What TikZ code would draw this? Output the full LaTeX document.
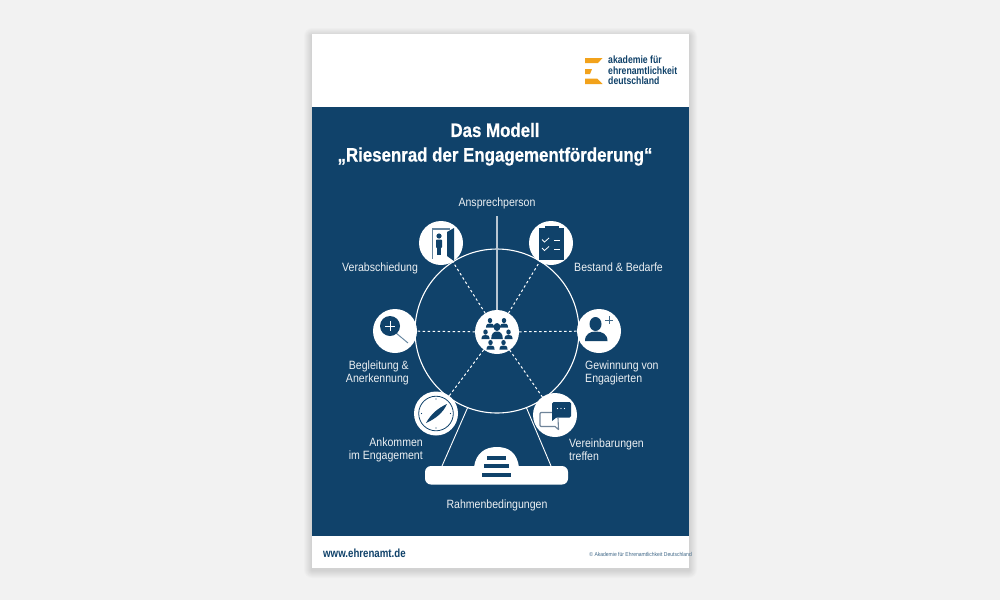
\documentclass[tikz,border=0pt]{standalone}
\usepackage{fontspec}
\setmainfont{Liberation Sans}
\newfontfamily\narrowfont[FakeStretch=0.88]{Liberation Sans}
\newfontfamily\narrowbold[FakeStretch=0.82]{Liberation Sans Bold}
\newfontfamily\titlebold[FakeStretch=0.865,FakeBold=0.6]{Liberation Sans Bold}
\definecolor{navy}{HTML}{10426A}
\definecolor{paper}{HTML}{F2F2F2}
\definecolor{amber}{HTML}{F2A21B}
\definecolor{softline}{HTML}{B9C6D2}
\definecolor{chatgrey}{HTML}{6F8499}
\tikzset{
  iconcircle/.style={circle,fill=white,minimum size=44pt,inner sep=0pt,outer sep=0pt},
  spoke/.style={draw=white,line width=1pt,dash pattern=on 2.5pt off 2.5pt},
  labeltext/.style={text=white!92!navy,inner sep=0pt,font=\narrowfont\fontsize{12}{13}\selectfont},
  leg/.style={draw=white,line width=0.9pt},
}
\newcommand{\personicon}[3]{%
  \fill[navy] (#1,#2-#3*2.9) ellipse [x radius=#3*2.2,y radius=#3*2.6];
  \fill[navy] (#1-#3*4,#2+#3*4.1) .. controls (#1-#3*4,#2) and (#1-#3*1.6,#2) .. (#1,#2)
     .. controls (#1+#3*1.6,#2) and (#1+#3*4,#2) .. (#1+#3*4,#2+#3*4.1) -- cycle;}
\begin{document}
\begin{tikzpicture}[x=1pt,y=-1pt]
\useasboundingbox (0,0) rectangle (1000,600);
\fill[paper] (0,0) rectangle (1000,600);
% sheet shadow
\foreach \d in {8,7,6,5,4,3,2,1}
  \fill[black,opacity=0.014,rounded corners=\d pt] (312-\d,34-\d+2) rectangle (689+\d,568+\d+2);
\fill[white] (312,34) rectangle (689,568);
\fill[navy] (312,107) rectangle (689,536);
% logo
\fill[amber] (585,58) -- (602.5,58) -- (598,63) -- (585,63) -- cycle;
\fill[amber] (585,69) -- (592,69) -- (590,74) -- (585,74) -- cycle;
\fill[amber] (585,78.5) -- (597,78.5) -- (602.5,84) -- (585,84) -- cycle;
\node[anchor=west,text=navy,inner sep=0pt,align=left,font=\narrowbold\fontsize{10.6}{10.2}\selectfont] (logotext) at (608,70.3)
  {akademie für\\ehrenamtlichkeit\\deutschland};
% title
\node[text=white,inner sep=0pt,font=\titlebold\fontsize{19.5}{19.5}\selectfont] (title1) at (495,130) {Das Modell};
\node[text=white,inner sep=0pt,font=\titlebold\fontsize{19.5}{19.5}\selectfont] (title2) at (495,156.5) {„Riesenrad der Engagementförderung“};
% wheel
\node[circle,draw=white,line width=1.1pt,minimum size=164pt,inner sep=0pt] (wheel) at (497,331) {};
% base
\fill[white,rounded corners=6pt] (425,466) rectangle (568,484.5);
\fill[white] (474,467) .. controls (476,453) and (485,447) .. (497,447)
  .. controls (509,447) and (517,453) .. (519,467) -- cycle;
\fill[navy] (487,456) rectangle (505.5,460);
\fill[navy] (483.5,463.5) rectangle (508.5,467.5);
\fill[navy] (481.5,472.5) rectangle (511,477);
\coordinate (footL) at (442,466);
\coordinate (footR) at (551,466);
\path[leg] (wheel.249) -- (footL);
\path[leg] (wheel.291) -- (footR);
% nodes
\node[iconcircle] (hub) at (497,332) {};
\node[iconcircle] (door) at (441,243) {};
\node[iconcircle] (clip) at (551,243) {};
\node[iconcircle] (gain) at (599,331) {};
\node[iconcircle] (lens) at (395,331) {};
\node[iconcircle] (compass) at (436,413.5) {};
\node[iconcircle] (chat) at (555,415) {};
\coordinate (mast) at (497,216);
\draw[draw=softline,line width=1.2pt] (mast) -- (hub);
\foreach \n in {door,clip,gain,lens,compass,chat} \path[spoke] (hub) -- (\n);
% hub icon
\personicon{490}{323.5}{1.02}
\personicon{504}{323.5}{1.02}
\personicon{485.5}{335}{1.02}
\personicon{508.5}{335}{1.02}
\personicon{490.5}{345.5}{1.02}
\personicon{503.5}{345.5}{1.02}
\fill[navy] (497,327) ellipse [x radius=3.4,y radius=4];
\fill[navy] (491.2,339) .. controls (491.2,333) and (494,331.5) .. (497,331.5) .. controls (500,331.5) and (502.8,333) .. (502.8,339) -- cycle;
% door icon
\fill[softline!50!navy] (431.7,228.3) rectangle (433.2,259);
\fill[softline!50!navy] (431.7,228.3) rectangle (450,229.8);
\fill[navy] (447,232) -- (454,228) -- (454,261) -- (447,256) -- cycle;
\fill[navy] (439,236) circle [radius=2.6];
\fill[navy,rounded corners=0.8pt] (436,239.5) rectangle (442,248);
\fill[navy] (436.8,247) rectangle (441.3,254.5);
% clipboard icon
\fill[navy] (539,227.5) rectangle (564,259.5);
\fill[navy] (545,225.5) rectangle (558.5,229);
\draw[white,line width=0.8pt] (542,239.5) -- (544.5,242) -- (549,238);
\draw[white,line width=0.8pt] (542,248) -- (544.5,250.5) -- (549,246.5);
\draw[white,line width=0.8pt] (554,240.5) -- (560,240.5);
\draw[white,line width=0.8pt] (554,249.5) -- (560,249.5);
% gain icon
\fill[navy] (595.5,324) ellipse [x radius=6,y radius=7];
\fill[navy] (585,341) .. controls (585,334) and (590,331.5) .. (596,331.5)
  .. controls (602,331.5) and (607.5,334) .. (607.5,341) -- cycle;
\draw[navy!80!white,line width=0.7pt] (605,320) -- (612.5,320) (609,316) -- (609,323.5);
% lens icon
\draw[softline!50!navy,line width=0.9pt] (396,333) -- (408,343);
\fill[navy] (390,326) circle [radius=10];
\draw[white,line width=0.8pt] (385,326) -- (395,326) (390,321) -- (390,331);
% compass icon
\draw[navy,line width=0.8pt] (436,413.5) circle [radius=17.3];
\fill[navy] (426,423) .. controls (431,414) and (438,408) .. (447,404) .. controls (443,413) and (435,419) .. (426,423) -- cycle;
\foreach \px/\py in {436/399,436/428,421.5/413.5,450.5/413.5} \fill[navy] (\px,\py) circle [radius=0.7];
% chat icon
\draw[chatgrey,line width=1.1pt,line join=round] (552,412.5) -- (541,412.5) -- (540,413.5) -- (540,425.5) -- (541,426.5) -- (555,426.5) -- (558.5,429.5) -- (558,418);
\fill[navy,rounded corners=1.5pt] (552,402) rectangle (571,417.5);
\fill[navy] (552,414) -- (552,421) -- (557,417) -- cycle;
\foreach \px in {557.5,561,564.5} \fill[white] (\px,408.5) circle [radius=0.7];
% labels
\node[labeltext] (lAnsp) at (497,203.2) {Ansprechperson};
\node[labeltext,anchor=west] (lVer) at (342,268.2) {Verabschiedung};
\node[labeltext,anchor=west] (lBest) at (574,267.5) {Bestand \& Bedarfe};
\node[labeltext,anchor=west,align=left] (lGew) at (585,373.3) {Gewinnung von\\Engagierten};
\node[labeltext,anchor=east,align=right] (lBeg) at (409,373.3) {Begleitung \&\\Anerkennung};
\node[labeltext,anchor=east,align=right] (lAnk) at (423,450.2) {Ankommen\\im Engagement};
\node[labeltext,anchor=west,align=left] (lVere) at (569,449.7) {Vereinbarungen\\treffen};
\node[labeltext] (lRahm) at (497,505.7) {Rahmenbedingungen};
% footer
\node[anchor=west,inner sep=0pt,text=navy,font=\narrowbold\fontsize{11.8}{12}\selectfont] (url) at (323,553) {www.ehrenamt.de};
\node[anchor=east,inner sep=0pt,text=navy!80!white,font=\narrowfont\fontsize{5.7}{5.7}\selectfont] (copy) at (692,554.5) {© Akademie für Ehrenamtlichkeit Deutschland};
\end{tikzpicture}
\end{document}
